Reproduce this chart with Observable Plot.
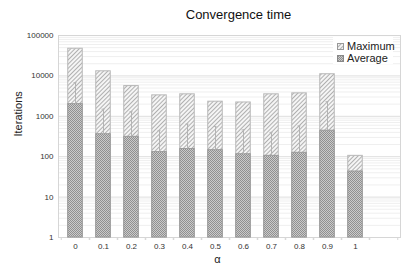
<!DOCTYPE html>
<html><head><meta charset="utf-8">
<script src="https://cdn.jsdelivr.net/npm/d3@7"></script>
<script src="https://cdn.jsdelivr.net/npm/@observablehq/plot@0.6"></script>
<style>
body{margin:0;background:#fff;font-family:"Liberation Sans",Arial,sans-serif;}
#wrap{position:relative;width:415px;height:273px;}
#title{position:absolute;left:62px;top:7px;width:353px;text-align:center;font-size:13px;line-height:16px;color:#111;}
#legend{position:absolute;left:333px;top:37px;width:60px;height:27px;background:#fff;font-size:11px;color:#222;}
.item{position:absolute;left:4px;height:12px;line-height:12px;white-space:nowrap;}
.item svg{vertical-align:middle;margin-right:3px;position:relative;top:-1px;}
</style></head>
<body><div id="wrap"></div>
<script>
// Data
const alpha   = ["0","0.1","0.2","0.3","0.4","0.5","0.6","0.7","0.8","0.9","1"];
const maximum = [47000, 13000, 5600, 3300, 3500, 2300, 2200, 3500, 3700, 11000, 105];
const average = [2000, 360, 310, 130, 155, 145, 115, 105, 125, 440, 43];
const upper   = [6800, 1500, 1300, 440, 640, 560, 460, 400, 580, 2300, null];
const yTicks  = [1, 10, 100, 1000, 10000, 100000];
const seriesNames = ["Maximum", "Average"];

const cats = [...alpha, ""];
const rows = alpha.map((a, i) => ({a, max: maximum[i], avg: average[i], hi: upper[i]}));
const whisk = rows.filter(d => d.hi != null);
const minor = [];
for (const d of yTicks.slice(0, -1)) for (let m = 2; m <= 9; m++) minor.push(d * m);

const chart = Plot.plot({
  width: 415, height: 273,
  marginLeft: 58, marginRight: 15, marginTop: 35, marginBottom: 36,
  style: {fontFamily: "Liberation Sans, Arial, sans-serif", fontSize: "8px", color: "#333", background: "transparent"},
  x: {type: "band", domain: cats, padding: 0},
  y: {type: "log", domain: [1, 100000]},
  marks: [
    Plot.gridY(minor, {stroke: "#efefef", strokeOpacity: 1}),
    Plot.gridY(yTicks, {stroke: "#dedede", strokeOpacity: 1}),
    Plot.frame({stroke: "#d6d6d6"}),
    Plot.axisY(yTicks, {tickSize: 0, tickPadding: 5, tickFormat: d => String(d), label: null}),
    Plot.axisX({tickSize: 0, tickPadding: 6, label: null, tickFormat: d => d}),
    Plot.axisX({tickSize: 3, tickFormat: null, dx: -14.25, label: null, stroke: "#d6d6d6"}),
    Plot.axisX({tickSize: 3, tickFormat: null, dx: 14.25, label: null, stroke: "#d6d6d6"}),
    Plot.rectY(rows, {x: "a", y1: 1, y2: "max", fill: "url(#hatch)", stroke: "#b8b8b8", strokeWidth: 1, insetLeft: 6.75, insetRight: 6.75}),
    Plot.rectY(rows, {x: "a", y1: 1, y2: "avg", fill: "url(#cross)", stroke: "#9a9a9a", strokeWidth: 1, insetLeft: 6.75, insetRight: 6.75}),
    Plot.ruleX(whisk, {x: "a", y1: "avg", y2: "hi", stroke: "#b4b4b4", strokeWidth: 1}),
    Plot.tickY(whisk, {x: "a", y: "hi", stroke: "#b4b4b4", strokeWidth: 1, insetLeft: 12.5, insetRight: 12.5}),
    Plot.text(["Iterations"], {frameAnchor: "left", dx: -40, rotate: -90, fontSize: 11, fill: "#222"}),
    Plot.text(["α"], {frameAnchor: "bottom", dy: 25, dx: -12, fontSize: 11, fill: "#222"})
  ]
});

d3.select(chart).insert("defs", ":first-child").html(`
  <pattern id="hatch" patternUnits="userSpaceOnUse" width="3" height="3" patternTransform="rotate(45)">
    <rect width="3" height="3" fill="#f5f5f5"></rect>
    <line x1="0.5" y1="0" x2="0.5" y2="3" stroke="#b0b0b0" stroke-width="1"></line>
  </pattern>
  <pattern id="cross" patternUnits="userSpaceOnUse" width="2" height="2">
    <rect width="2" height="2" fill="#cacaca"></rect>
    <rect width="1" height="1" fill="#909090"></rect>
    <rect x="1" y="1" width="1" height="1" fill="#909090"></rect>
  </pattern>`);

const wrap = document.getElementById("wrap");
wrap.appendChild(chart);

const title = document.createElement("div");
title.id = "title";
title.textContent = "Convergence time";
wrap.appendChild(title);

const legend = document.createElement("div");
legend.id = "legend";
const fills = ["url(#hatch)", "url(#cross)"];
const strokes = ["#999", "#888"];
seriesNames.forEach((name, i) => {
  const it = document.createElement("div");
  it.className = "item";
  it.style.top = (3 + i * 12) + "px";
  it.innerHTML = `<svg width="7" height="7"><rect x="0.5" y="0.5" width="6" height="6" fill="${fills[i]}" stroke="${strokes[i]}"></rect></svg>${name}`;
  legend.appendChild(it);
});
wrap.appendChild(legend);
</script>
</body></html>
